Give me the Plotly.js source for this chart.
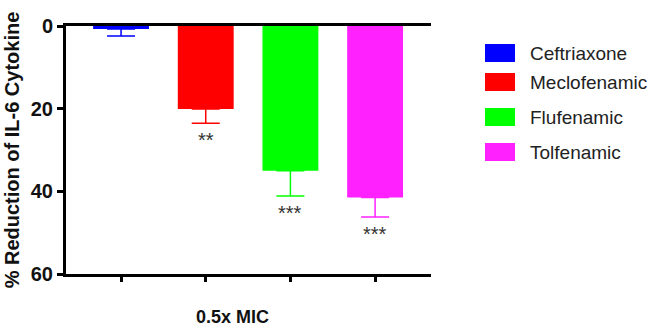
<!DOCTYPE html>
<html><head><meta charset="utf-8">
<script src="https://cdn.plot.ly/plotly-3.0.1.min.js"></script>
<style>html,body{margin:0;padding:0;background:#fff}#chart{width:650px;height:328px}</style>
</head><body><div id="chart"></div>
<script>
const drugs = ['Ceftriaxone', 'Meclofenamic', 'Flufenamic', 'Tolfenamic'];
const reduction = [0.7, 20.1, 35.0, 41.5];
const errors = [1.7, 3.4, 6.1, 4.7];
const significance = ['', '**', '***', '***'];
const colors = ['#0000ff', '#ff0000', '#00ff00', '#ff22ff'];
const yTicks = [0, 20, 40, 60];
const xLabel = '0.5x MIC';
const yLabel = '% Reduction of IL-6 Cytokine';

const W = 650, H = 328;
const M = {l: 66, r: 219, t: 26, b: 54};
const pw = W - M.l - M.r, ph = H - M.t - M.b;
const pxX = x => (x - M.l) / pw;
const pxY = y => 1 - (y - M.t) / ph;
const FONT = 'Arial, "Liberation Sans", sans-serif';

const traces = drugs.map((d, i) => ({
  type: 'bar', name: d, x: [i + 1], y: [reduction[i]], width: 0.66,
  marker: {color: colors[i], line: {width: 0}},
  error_y: {type: 'data', symmetric: false, array: [errors[i]], arrayminus: [0],
            color: colors[i], thickness: 1.5, width: 14},
  showlegend: false, hoverinfo: 'skip'
}));

const annotations = [];
drugs.forEach((d, i) => {
  if (significance[i]) {
    annotations.push({x: i + 1, y: reduction[i] + errors[i], xref: 'x', yref: 'y',
      text: significance[i], showarrow: false, yanchor: 'top', yshift: -4,
      font: {family: FONT, size: 20, color: '#333'}});
  }
});
// legend (custom, larger swatches)
const legendRows = [53, 82, 117, 152];
const shapes = [];
drugs.forEach((d, i) => {
  const yc = legendRows[i];
  shapes.push({type: 'rect', xref: 'paper', yref: 'paper',
    x0: pxX(485), x1: pxX(515), y0: pxY(yc - 9), y1: pxY(yc + 9),
    fillcolor: colors[i], line: {width: 0}});
  annotations.push({xref: 'paper', yref: 'paper', x: pxX(528), y: pxY(yc),
    xanchor: 'left', yanchor: 'middle', text: d, showarrow: false,
    font: {family: FONT, size: 19, color: '#222'}});
});
annotations.push({xref: 'paper', yref: 'paper', x: pxX(232), y: pxY(317),
  xanchor: 'center', yanchor: 'middle', text: xLabel, showarrow: false,
  font: {family: FONT, size: 18, color: '#111', weight: 'bold'}});

const layout = {
  width: W, height: H, margin: M,
  paper_bgcolor: '#fff', plot_bgcolor: '#fff',
  font: {family: FONT, color: '#111'},
  showlegend: false,
  xaxis: {range: [0.35, 4.66], tickvals: [1, 2, 3, 4], showticklabels: false,
    ticks: 'outside', ticklen: 5, tickwidth: 3, tickcolor: '#000',
    showline: true, linewidth: 3, linecolor: '#000', mirror: true,
    showgrid: false, zeroline: false, fixedrange: true},
  yaxis: {range: [60, 0], tickvals: yTicks, ticks: 'outside', ticklen: 6, tickwidth: 3,
    tickcolor: '#000', showline: true, linewidth: 3, linecolor: '#000',
    showgrid: false, zeroline: false, fixedrange: true, automargin: false,
    tickfont: {family: FONT, size: 20, color: '#111', weight: 'bold'},
    title: {text: yLabel, standoff: 6, font: {family: FONT, size: 20, color: '#111', weight: 'bold'}}},
  annotations: annotations, shapes: shapes
};
Plotly.newPlot('chart', traces, layout, {displayModeBar: false, staticPlot: true});
</script></body></html>
